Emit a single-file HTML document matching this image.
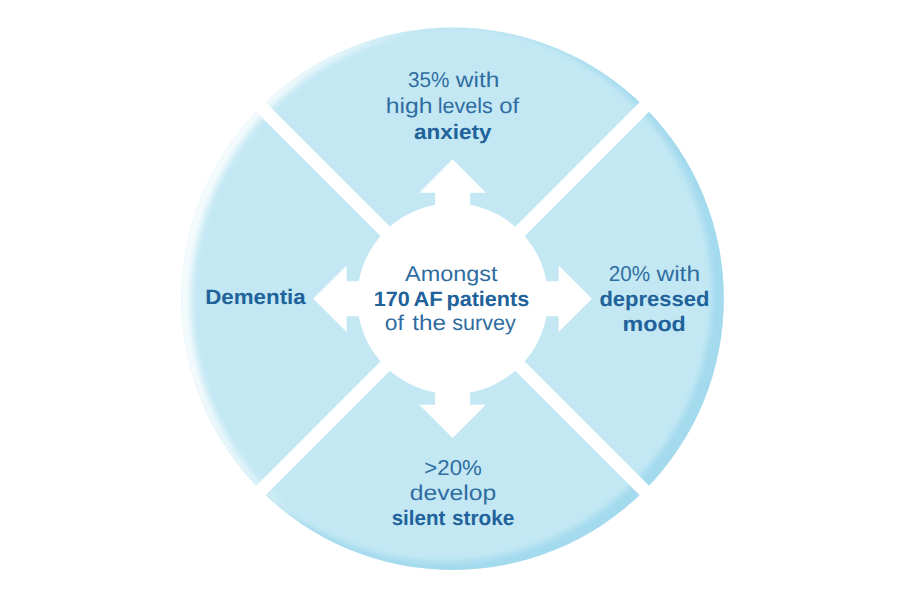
<!DOCTYPE html>
<html lang="en">
<head>
<meta charset="utf-8">
<title>AF patients survey</title>
<style>
html,body{margin:0;padding:0;background:#fff;}
body{width:900px;height:600px;overflow:hidden;position:relative;font-family:"Liberation Sans",sans-serif;}
svg{position:absolute;left:0;top:0;display:block;}
text{font-family:"Liberation Sans",sans-serif;text-rendering:geometricPrecision;}
g.r{fill:#2f6da1;font-weight:400;}
g.b{fill:#21629a;font-weight:700;}
</style>
</head>
<body>
<svg width="900" height="600" viewBox="0 0 900 600">
<defs>
<filter id="bH" filterUnits="userSpaceOnUse" x="0" y="0" width="900" height="600"><feGaussianBlur stdDeviation="3.6"/></filter>
<filter id="bS" filterUnits="userSpaceOnUse" x="0" y="0" width="900" height="600"><feGaussianBlur stdDeviation="3.4"/></filter>
<clipPath id="ho"><circle cx="445.56" cy="297.20" r="268.20"/></clipPath>
<clipPath id="cc"><circle cx="452.6" cy="298.7" r="271.2"/></clipPath>
</defs>
<circle cx="452.6" cy="298.7" r="271.2" fill="#c3e8f4"/>
<g clip-path="url(#cc)">
<path d="M-50,-50H950V650H-50ZM174.57,292.87a268.70,268.70 0 1,0 537.40,0a268.70,268.70 0 1,0 -537.40,0Z" fill-rule="evenodd" fill="#9ed7ec" fill-opacity="0.85" filter="url(#bS)"/>
<g filter="url(#bH)"><path d="M-50,-50H950V650H-50ZM190.59,301.61a275.70,275.70 0 1,0 551.40,0a275.70,275.70 0 1,0 -551.40,0Z" fill-rule="evenodd" clip-rule="evenodd" fill="#fff" fill-opacity="0.88" clip-path="url(#ho)"/></g>
</g>
<g stroke="#fff" stroke-width="13.3">
<line x1="152.6" y1="-1.3" x2="752.6" y2="598.7"/>
<line x1="152.6" y1="598.7" x2="752.6" y2="-1.3"/>
</g>
<g fill="#fff">
<circle cx="452.6" cy="298.7" r="95.5"/>
<polygon points="0,-139.4 33.3,-106 17.5,-106 17.5,-60 -17.5,-60 -17.5,-106 -33.3,-106" transform="translate(452.6 298.7) rotate(0)"/>
<polygon points="0,-139.4 33.3,-106 17.5,-106 17.5,-60 -17.5,-60 -17.5,-106 -33.3,-106" transform="translate(452.6 298.7) rotate(90)"/>
<polygon points="0,-139.4 33.3,-106 17.5,-106 17.5,-60 -17.5,-60 -17.5,-106 -33.3,-106" transform="translate(452.6 298.7) rotate(180)"/>
<polygon points="0,-139.4 33.3,-106 17.5,-106 17.5,-60 -17.5,-60 -17.5,-106 -33.3,-106" transform="translate(452.6 298.7) rotate(270)"/>
</g>
<g class="r" font-size="21.5"><text x="407.93" y="86.8" textLength="41.48" lengthAdjust="spacingAndGlyphs">35%</text> <text x="455.80" y="86.8" textLength="43.53" lengthAdjust="spacingAndGlyphs">with</text></g>
<g class="r" font-size="21.5"><text x="385.77" y="113.0" textLength="46.78" lengthAdjust="spacingAndGlyphs">high</text> <text x="437.80" y="113.0" textLength="54.97" lengthAdjust="spacingAndGlyphs">levels</text> <text x="499.30" y="113.0" textLength="19.92" lengthAdjust="spacingAndGlyphs">of</text></g>
<g class="b" font-size="20.9"><text x="414.05" y="138.6" textLength="77.48" lengthAdjust="spacingAndGlyphs">anxiety</text></g>
<g class="r" font-size="21.5"><text x="405.09" y="280.7" textLength="92.37" lengthAdjust="spacingAndGlyphs">Amongst</text></g>
<g class="b" font-size="20.9"><text x="373.86" y="305.6" textLength="35.94" lengthAdjust="spacingAndGlyphs">170</text> <text x="413.48" y="305.6" textLength="29.22" lengthAdjust="spacingAndGlyphs">AF</text> <text x="446.45" y="305.6" textLength="82.81" lengthAdjust="spacingAndGlyphs">patients</text></g>
<g class="r" font-size="21.5"><text x="384.74" y="330.4" textLength="19.08" lengthAdjust="spacingAndGlyphs">of</text> <text x="412.16" y="330.4" textLength="33.76" lengthAdjust="spacingAndGlyphs">the</text> <text x="452.30" y="330.4" textLength="63.63" lengthAdjust="spacingAndGlyphs">survey</text></g>
<g class="b" font-size="20.9"><text x="205.20" y="303.8" textLength="100.57" lengthAdjust="spacingAndGlyphs">Dementia</text></g>
<g class="r" font-size="21.5"><text x="608.84" y="280.7" textLength="41.36" lengthAdjust="spacingAndGlyphs">20%</text> <text x="656.40" y="280.7" textLength="43.74" lengthAdjust="spacingAndGlyphs">with</text></g>
<g class="b" font-size="20.9"><text x="599.45" y="306.2" textLength="109.87" lengthAdjust="spacingAndGlyphs">depressed</text></g>
<g class="b" font-size="20.9"><text x="622.54" y="331.1" textLength="63.30" lengthAdjust="spacingAndGlyphs">mood</text></g>
<g class="r" font-size="21.5"><text x="424.26" y="474.8" textLength="57.55" lengthAdjust="spacingAndGlyphs">&gt;20%</text></g>
<g class="r" font-size="21.5"><text x="409.77" y="500.4" textLength="86.59" lengthAdjust="spacingAndGlyphs">develop</text></g>
<g class="b" font-size="20.9"><text x="391.71" y="524.6" textLength="53.57" lengthAdjust="spacingAndGlyphs">silent</text> <text x="452.01" y="524.6" textLength="62.22" lengthAdjust="spacingAndGlyphs">stroke</text></g>
</svg>
</body>
</html>
